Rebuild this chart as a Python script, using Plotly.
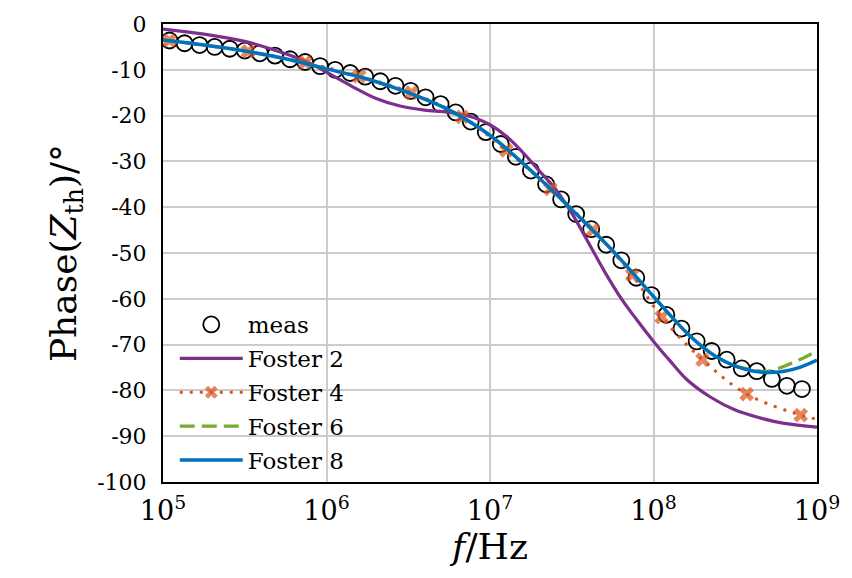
import plotly.graph_objects as go

# ---------------- data ----------------
meas_f = [1.096e5, 1.355e5, 1.675e5, 2.070e5, 2.560e5, 3.162e5, 3.914e5, 4.841e5,
          5.980e5, 7.396e5, 9.141e5, 1.130e6, 1.396e6, 1.726e6, 2.133e6, 2.642e6,
          3.266e6, 4.036e6, 4.989e6, 6.166e6, 7.621e6, 9.419e6, 1.164e7, 1.439e7,
          1.778e7, 2.203e7, 2.723e7, 3.365e7, 4.159e7, 5.140e7, 6.353e7, 7.852e7,
          9.705e7, 1.199e8, 1.483e8, 1.837e8, 2.270e8, 2.805e8, 3.467e8, 4.285e8,
          5.297e8, 6.546e8, 8.091e8]
meas_phase = [-3.6, -4.2, -4.6, -5.0, -5.4, -5.8, -6.4, -6.9, -7.7, -8.3, -9.2,
              -10.0, -10.7, -11.5, -12.5, -13.5, -14.6, -16.0, -17.5, -19.3, -21.3,
              -23.6, -26.2, -29.0, -32.0, -35.0, -38.3, -41.5, -44.8, -48.2, -51.6,
              -55.4, -59.2, -63.5, -66.5, -69.3, -71.4, -73.3, -75.2, -75.8, -77.5,
              -79.0, -79.7]

f2_f = [1e5, 1.778e5, 3.162e5, 5.623e5, 7.943e5, 1e6, 1.413e6, 1.995e6, 2.818e6,
        3.981e6, 5.623e6, 7.943e6, 1e7, 1.259e7, 1.585e7, 1.995e7, 2.512e7, 3.162e7,
        3.981e7, 5.012e7, 6.310e7, 7.943e7, 1e8, 1.259e8, 1.585e8, 2.239e8, 3.162e8,
        4.467e8, 6.310e8, 1e9]
f2_phase = [-1.1, -2.2, -3.8, -6.5, -8.6, -10.5, -13.5, -16.2, -17.9, -18.8, -19.3,
            -20.4, -22.0, -24.5, -28.0, -32.0, -36.0, -41.3, -47.6, -54.0, -59.8,
            -64.7, -69.3, -73.5, -77.5, -81.5, -84.3, -86.0, -87.2, -88.0]

f4_f = [1e5, 1.096e5, 3.311e5, 7.413e5, 1.585e6, 3.311e6, 6.761e6, 1.259e7, 2.344e7,
        4.266e7, 7.413e7, 1.122e8, 1.995e8, 3.715e8, 7.943e8, 1e9]
f4_phase = [-3.4, -3.6, -6.0, -8.4, -11.4, -15.0, -20.3, -27.6, -36.0, -45.0, -54.8,
            -64.0, -73.3, -80.8, -85.4, -86.3]

f6_f = [1e5, 1.778e5, 3.162e5, 5.623e5, 1e6, 1.778e6, 3.162e6, 5.623e6, 1e7, 1.778e7,
        3.162e7, 5.623e7, 1e8, 1.259e8, 1.585e8, 1.995e8, 2.512e8, 3.162e8, 3.981e8,
        5.012e8, 6.310e8, 7.943e8, 1e9]
f6_phase = [-3.5, -4.6, -5.9, -7.6, -9.8, -12.0, -15.0, -18.8, -24.3, -32.0, -40.5,
            -49.5, -59.5, -63.5, -67.3, -70.5, -73.0, -74.6, -75.5, -75.8, -74.7,
            -73.2, -71.4]

f8_f = [1e5, 1.778e5, 3.162e5, 5.623e5, 1e6, 1.778e6, 3.162e6, 5.623e6, 1e7, 1.778e7,
        3.162e7, 5.623e7, 1e8, 1.259e8, 1.585e8, 1.995e8, 2.512e8, 3.162e8, 3.981e8,
        5.012e8, 6.310e8, 7.943e8, 1e9]
f8_phase = [-3.5, -4.6, -5.9, -7.6, -9.8, -12.0, -15.0, -18.8, -24.3, -32.0, -40.5,
            -49.5, -59.5, -63.5, -67.3, -70.5, -73.0, -74.7, -75.7, -76.1, -75.8,
            -74.9, -73.4]

names = ["meas", "Foster 2", "Foster 4", "Foster 6", "Foster 8"]

x_tickvals = [1e5, 1e6, 1e7, 1e8, 1e9]
x_ticktext = ["10<sup>5</sup>", "10<sup>6</sup>", "10<sup>7</sup>", "10<sup>8</sup>", "10<sup>9</sup>"]
y_tickvals = [0, -10, -20, -30, -40, -50, -60, -70, -80, -90, -100]
y_ticktext = ["0", "-10", "-20", "-30", "-40", "-50", "-60", "-70", "-80", "-90", "-100"]

# ---------------- styles ----------------
FONT = "DejaVu Serif"
C_F2 = "#7E2F8E"
C_F4 = "#D95319"
C_F6 = "#77AC30"
C_F8 = "#0072BD"
f4_marker_sizes = [0] + [13] * (len(f4_f) - 2) + [0]

fig = go.Figure()
fig.add_trace(go.Scatter(x=meas_f, y=meas_phase, name=names[0], mode="markers",
                         legendgroup="g0",
                         marker=dict(symbol="circle-open", size=16, color="black",
                                     line=dict(width=1.8, color="black"))))
fig.add_trace(go.Scatter(x=f2_f, y=f2_phase, name=names[1], mode="lines",
                         legendgroup="g1",
                         line=dict(color=C_F2, width=3.2, shape="spline", smoothing=1.0)))
fig.add_trace(go.Scatter(x=f4_f, y=f4_phase, name=names[2], mode="lines+markers",
                         legendgroup="g2",
                         line=dict(color=C_F4, width=3, dash="3px,7px", shape="spline",
                                   smoothing=1.0),
                         marker=dict(symbol="x", size=f4_marker_sizes, color=C_F4,
                                     line=dict(width=0))))
fig.add_trace(go.Scatter(x=f6_f, y=f6_phase, name=names[3], mode="lines",
                         legendgroup="g3",
                         line=dict(color=C_F6, width=3.2, dash="15px,7px", shape="spline",
                                   smoothing=1.0)))
fig.add_trace(go.Scatter(x=f8_f, y=f8_phase, name=names[4], mode="lines",
                         legendgroup="g4",
                         line=dict(color=C_F8, width=3.5, shape="spline", smoothing=1.0)))

fig.update_layout(
    width=852, height=578,
    margin=dict(l=163, r=34, t=20, b=96),
    paper_bgcolor="white", plot_bgcolor="white",
    font=dict(family=FONT, color="black", size=22),
    showlegend=True,
    legend=dict(x=0.018, y=0.0, xanchor="left", yanchor="bottom",
                bgcolor="rgba(0,0,0,0)", borderwidth=0,
                font=dict(family=FONT, size=23, color="black"),
                itemwidth=63, traceorder="grouped", tracegroupgap=1),
    xaxis=dict(type="log", range=[5, 9], tickvals=x_tickvals, ticktext=x_ticktext,
               showgrid=True, gridcolor="#cccccc", gridwidth=2,
               showline=True, linecolor="black", linewidth=2, mirror=True,
               ticks="", tickfont=dict(size=27), ticklabelstandoff=4,
               title=dict(text="<i>f</i>/Hz", font=dict(size=36), standoff=6),
               zeroline=False),
    yaxis=dict(range=[-100, 0], tickvals=y_tickvals, ticktext=y_ticktext,
               showgrid=True, gridcolor="#cccccc", gridwidth=2,
               showline=True, linecolor="black", linewidth=2, mirror=True,
               ticks="", tickfont=dict(size=22), ticklabelstandoff=10,
               title=dict(text="Phase(<i>Z</i><sub>th</sub>)/°", font=dict(size=36),
                          standoff=10),
               zeroline=False),
)

fig.write_html("out.html")
